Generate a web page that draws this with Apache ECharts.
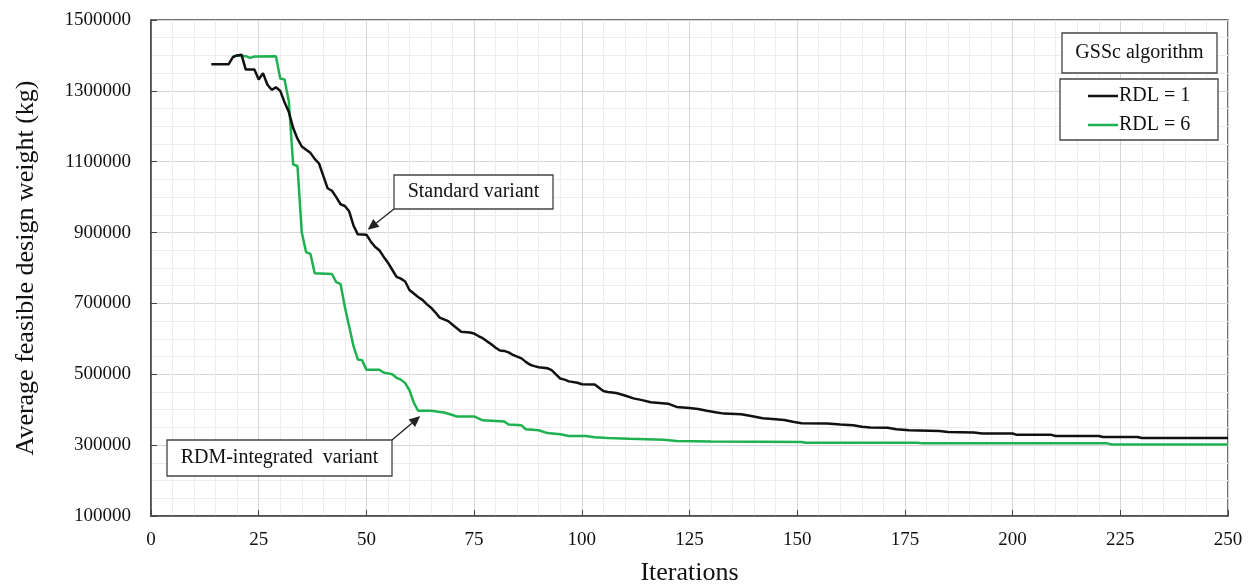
<!DOCTYPE html>
<html>
<head>
<meta charset="utf-8">
<script src="https://cdn.jsdelivr.net/npm/echarts@6/dist/echarts.min.js"></script>
<style>
  html, body { margin: 0; padding: 0; background: #fff; }
  #chart { width: 1252px; height: 586px; }
</style>
</head>
<body>
<div id="chart"></div>
<script>
// iterations / average feasible weight (kg)
var itersRdl1 = [14, 18, 19, 20, 21, 22, 24, 25, 26, 27, 28, 29, 30, 31, 32, 33, 34, 35, 36, 37, 38, 39, 40, 41, 42, 43, 44, 45, 46, 47, 48, 50,
  51, 52, 53, 54, 55, 56, 57, 58, 59, 60, 61, 62, 63, 64, 65, 66, 67, 68, 69, 70, 71, 72, 74, 75, 76, 77, 78, 79, 80,
  81, 82, 83, 84, 85, 86, 87, 88, 89, 90, 92, 93, 94, 95, 96, 97, 99, 100, 103, 104, 105, 106, 108, 110, 112, 114, 116, 118, 120,
  122, 125, 127, 129, 131, 133, 137, 139, 142, 145, 147, 149, 151, 157, 160, 163, 165, 167, 171, 173, 176, 183, 185, 191, 193,
  200, 201, 209, 210, 220, 221, 229, 230, 250]
var weightRdl1 = [1375000, 1375000, 1395000, 1400000, 1402000, 1360000, 1360000, 1332000, 1350000, 1318000, 1303000, 1310000, 1300000, 1268000, 1240000, 1195000, 1165000, 1143000, 1134000, 1125000, 1108000, 1095000, 1060000, 1025000, 1018000, 1000000, 980000, 975000, 960000, 920000, 895000, 894000,
  875000, 860000, 850000, 832000, 815000, 795000, 775000, 770000, 762000, 738000, 728000, 718000, 710000, 698000, 688000, 675000, 660000, 655000, 650000, 640000, 630000, 620000, 618000, 615000, 608000, 602000, 593000, 585000, 575000,
  567000, 566000, 562000, 555000, 550000, 545000, 535000, 527000, 523000, 520000, 517000, 512000, 500000, 488000, 485000, 480000, 476000, 472000, 471000, 462000, 453000, 450000, 447000, 440000, 432000, 427000, 421000, 419000, 417000,
  408000, 405000, 402000, 397000, 393000, 389000, 387000, 383000, 376000, 373000, 371000, 366000, 362000, 361000, 358000, 356000, 352000, 350000, 349000, 345000, 342000, 340000, 337000, 336000, 333000,
  333000, 329000, 329000, 326000, 326000, 323000, 323000, 320000, 320000]

var itersRdl6 = [19, 20, 22, 23, 24, 29, 30, 31, 32, 33, 34, 35, 36, 37, 38, 42, 43, 44, 45, 46, 47, 48, 49, 50, 53, 54, 56, 57, 58, 59, 60,
  61, 62, 65, 68, 70, 71, 75, 77, 82, 83, 86, 87, 90, 92, 95, 97, 101, 103, 106, 111, 119, 122, 130, 151, 152, 178, 179, 222, 223, 250]
var weightRdl6 = [1397000, 1400000, 1398000, 1393000, 1397000, 1398000, 1335000, 1332000, 1270000, 1092000, 1088000, 900000, 845000, 840000, 785000, 783000, 760000, 755000, 690000, 635000, 580000, 542000, 540000, 513000, 513000, 505000, 500000, 490000, 485000, 475000, 455000,
  420000, 397000, 397000, 392000, 385000, 381000, 381000, 370000, 367000, 358000, 356000, 345000, 342000, 334000, 331000, 326000, 326000, 322000, 320000, 318000, 315000, 312000, 310000, 309000, 307000, 307000, 305000, 305000, 302000, 302000]

var xTicks = { min: 0, max: 250, step: 25 }
var yTicks = { min: 100000, max: 1500000, step: 200000 }

var serif = '"Liberation Serif", "DejaVu Serif", serif'
var ink = '#111'
var frame = '#444'
var black = '#111'
var green = '#1fb150'

function pairs(xs, ys) {
  return xs.map(function (x, i) { return [x, ys[i]] })
}

function arrow(x1, y1, x2, y2) {
  var ang = Math.atan2(y2 - y1, x2 - x1)
  var len = 11, half = 5
  var bx = x2 - len * Math.cos(ang), by = y2 - len * Math.sin(ang)
  var nx = -Math.sin(ang) * half, ny = Math.cos(ang) * half
  return [
    { type: 'line', z: 5, shape: { x1: x1, y1: y1, x2: bx, y2: by }, style: { stroke: '#222', lineWidth: 1.3 } },
    { type: 'polygon', z: 5, shape: { points: [[x2, y2], [bx + nx, by + ny], [bx - nx, by - ny]] }, style: { fill: '#222' } }
  ]
}

function box(x, y, w, h, text) {
  var els = [
    { type: 'rect', z: 3, shape: { x: x, y: y, width: w, height: h }, style: { fill: '#fff', stroke: frame, lineWidth: 1.3 } }
  ]
  if (text) {
    els.push({ type: 'text', z: 4, x: x + w / 2, y: y + h / 2,
      style: { text: text, fill: ink, font: '20px ' + serif, align: 'center', verticalAlign: 'middle' } })
  }
  return els
}

var myChart = echarts.init(document.getElementById('chart'))

var option = {
  animation: false,
  backgroundColor: '#fff',
  grid: {
    left: 151, right: 24, top: 20, bottom: 70,
    outerBoundsMode: 'none',
    containLabel: false,
    show: true, borderColor: frame, borderWidth: 1.5, backgroundColor: 'transparent'
  },
  legend: {
    orient: 'vertical',
    left: 1088,
    top: 86,
    padding: 0,
    icon: 'rect',
    itemWidth: 30,
    itemHeight: 2.5,
    itemGap: 9,
    textStyle: { fontFamily: serif, fontSize: 20, color: ink, padding: [0, 0, 0, -4] },
    data: ['RDL = 1', 'RDL = 6']
  },
  xAxis: {
    type: 'value',
    min: xTicks.min,
    max: xTicks.max,
    interval: xTicks.step,
    name: 'Iterations',
    nameLocation: 'middle',
    nameGap: 44,
    nameTextStyle: { fontFamily: serif, fontSize: 26, color: ink },
    axisLine: { show: true, lineStyle: { color: frame, width: 1.5 } },
    axisTick: { show: true, inside: true, length: 6, lineStyle: { color: frame } },
    axisLabel: { fontFamily: serif, fontSize: 19, color: ink, margin: 15 },
    splitLine: { show: true, lineStyle: { color: '#d6d6d6' } },
    minorTick: { show: false, splitNumber: 5 },
    minorSplitLine: { show: true, lineStyle: { color: '#ededed' } }
  },
  yAxis: {
    type: 'value',
    min: yTicks.min,
    max: yTicks.max,
    interval: yTicks.step,
    name: 'Average feasible design weight (kg)',
    nameLocation: 'middle',
    nameGap: 112,
    nameTextStyle: { fontFamily: serif, fontSize: 26, color: ink },
    axisLine: { show: true, lineStyle: { color: frame, width: 1.5 } },
    axisTick: { show: true, inside: true, length: 6, lineStyle: { color: frame } },
    axisLabel: { fontFamily: serif, fontSize: 19, color: ink, margin: 20, formatter: function (v) { return String(v) } },
    splitLine: { show: true, lineStyle: { color: '#d6d6d6' } },
    minorTick: { show: false, splitNumber: 4 },
    minorSplitLine: { show: true, lineStyle: { color: '#ededed' } }
  },
  series: [
    {
      name: 'RDL = 1',
      type: 'line',
      symbol: 'none',
      z: 3,
      lineStyle: { color: black, width: 2.5 },
      itemStyle: { color: black },
      data: pairs(itersRdl1, weightRdl1)
    },
    {
      name: 'RDL = 6',
      type: 'line',
      symbol: 'none',
      z: 2,
      lineStyle: { color: green, width: 2.5 },
      itemStyle: { color: green },
      data: pairs(itersRdl6, weightRdl6)
    }
  ]
}

option && myChart.setOption(option)

// annotation boxes and arrows, tips placed on the curves through the axes
var tipStd = myChart.convertToPixel({ gridIndex: 0 }, [50.3, 908000])
var tipRdm = myChart.convertToPixel({ gridIndex: 0 }, [62.5, 382000])

var els = []
  .concat(box(1062, 33, 155, 40, 'GSSc algorithm'))
  .concat(box(1060, 79, 158, 61))
  .concat(box(394, 175, 159, 34, 'Standard variant'))
  .concat(box(167, 440, 225, 36, 'RDM-integrated  variant'))
  .concat(arrow(394, 209, tipStd[0], tipStd[1]))
  .concat(arrow(392, 440, tipRdm[0], tipRdm[1]))

myChart.setOption({ graphic: { elements: els } })
</script>
</body>
</html>
